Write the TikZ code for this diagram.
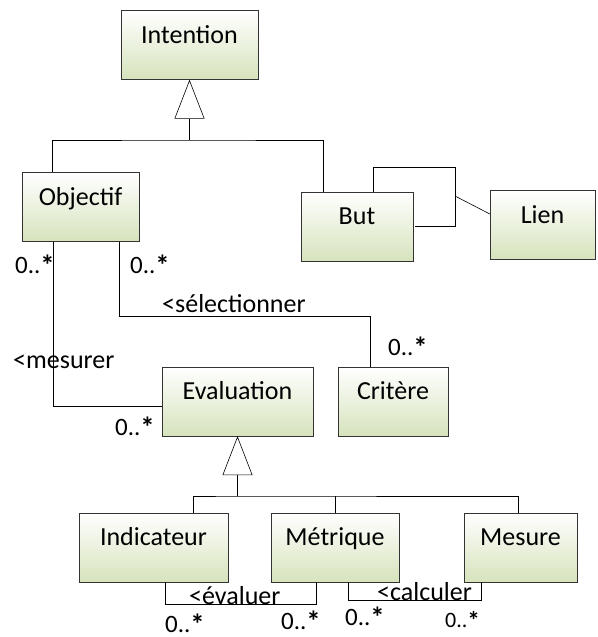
\documentclass[tikz,border=0pt]{standalone}
\usepackage{fontspec}
\setmainfont{Carlito}
\usetikzlibrary{arrows.meta}
\definecolor{boxgreen}{RGB}{214,227,188}
\newcommand{\zeroplus}{0..\raisebox{-2pt}{\bfseries\scalebox{1.15}{*}}}
\begin{document}
\begin{tikzpicture}[x=1pt,y=-1pt]
\tikzset{classe/.style = {shape=rectangle,draw=black!80,top color=white,bottom color=boxgreen,minimum height=69pt,inner sep=0pt,text height=17pt,text depth=21pt,font=\fontsize{26}{30}\selectfont}}
\tikzset{lien/.style = {-,line width=0.6pt}}
\tikzset{herite/.style = {-{Triangle[open,length=39pt,width=30pt]},line width=0.6pt}}
\tikzset{etiq/.style = {anchor=base west,inner sep=0pt,font=\fontsize{26}{30}\selectfont}}
\tikzset{mult/.style = {etiq,font=\fontsize{25}{29}\selectfont}}
\useasboundingbox (0,0) rectangle (597,637);
% classes
\node[classe,minimum width=137pt] (intention) at (189.5,45)  {Intention};
\node[classe,minimum width=117pt] (objectif)  at (80.5,207)  {Objectif};
\node[classe,minimum width=112pt] (but)       at (357,226.5) {But};
\node[classe,minimum width=105pt] (lien)      at (542.5,225) {Lien};
\node[classe,minimum width=151pt] (evaluation) at (237.5,401.5) {Evaluation};
\node[classe,minimum width=110pt] (critere)   at (393,401.5) {Critère};
\node[classe,minimum width=149pt] (indicateur) at (153.5,547.5) {Indicateur};
\node[classe,minimum width=128pt] (metrique)  at (335,547.5) {Métrique};
\node[classe,minimum width=113pt] (mesure)    at (520.5,547.5) {Mesure};
% points
\coordinate (j1) at (189.5,140);
\coordinate (j2) at (237.5,496);
\coordinate (b1) at (455,167);
\coordinate (b2) at (455,196);
\coordinate (s1) at (370,316);
% heritage
\draw[herite] (j1) to (intention.south);
\draw[lien] ([xshift=30]objectif.north west) |- (j1) -| ([xshift=22]but.north west);
\draw[herite] (j2) to (evaluation.south);
\draw[lien] ([xshift=114]indicateur.north west) |- (j2) -| ([xshift=-2.5]mesure.north);
\draw[lien] (metrique.north) to (metrique.north |- j2);
% associations
\draw[lien] ([xshift=72]but.north west) |- (b1) |- ([xshift=2]but.east);
\draw[lien] (b2) to ([yshift=11]lien.west);
\draw[lien] ([xshift=31]objectif.south west) |- ([yshift=-4.5]evaluation.west);
\draw[lien] ([xshift=97]objectif.south west) |- (s1) to ([xshift=-23]critere.north);
\draw[lien] ([xshift=86]indicateur.south west) -- ++(0,22) -| ([xshift=45]metrique.south west);
\draw[lien] ([xshift=77]metrique.south west) -- ++(0,18) -| ([xshift=17]mesure.south west);
% labels
\node[mult] (m1) at (15,273)  {\zeroplus};
\node[mult] (m2) at (130,273) {\zeroplus};
\node[etiq] (selectionner) at (162,312) {<sélectionner};
\node[mult] (m3) at (388,355) {\zeroplus};
\node[etiq] (mesurer) at (13,368) {<mesurer};
\node[mult] (m4) at (115,435) {\zeroplus};
\node[etiq] (evaluer) at (189,604) {<évaluer};
\node[etiq] (calculer) at (377,600) {<calculer};
\node[mult] (m5) at (165,632) {\zeroplus};
\node[mult] (m6) at (281,629) {\zeroplus};
\node[mult] (m7) at (345,625) {\zeroplus};
\node[mult,font=\fontsize{22}{26}\selectfont] (m8) at (445,627) {\zeroplus};
\end{tikzpicture}
\end{document}
